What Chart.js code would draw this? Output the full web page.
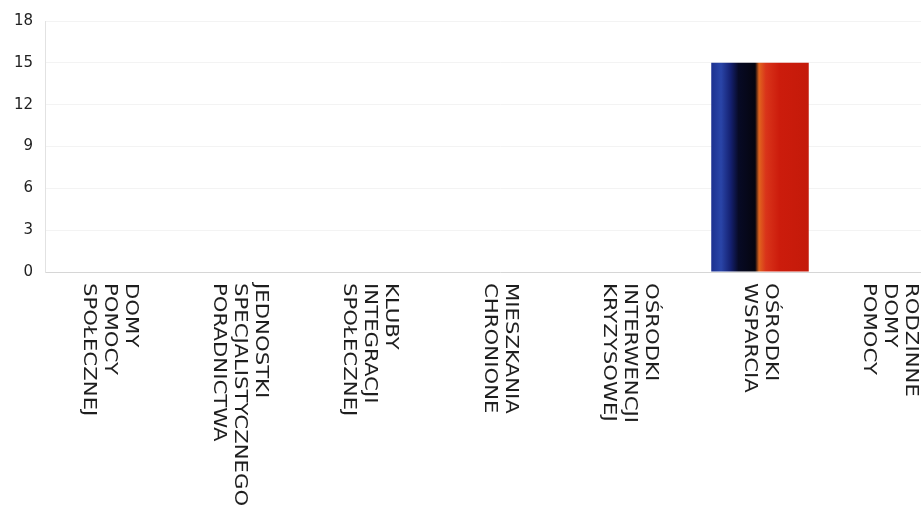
<!DOCTYPE html>
<html>
<head>
<meta charset="utf-8">
<script src="https://cdn.jsdelivr.net/npm/chart.js@4"></script>
<style>
    html, body { margin: 0; padding: 0; background: #fff; overflow: hidden; }
    #wrap { width: 960px; height: 516px; }
</style>
</head>
<body>
<div id="wrap"><canvas id="chart"></canvas></div>
<script>
// Categories (each line of the label separately)
const categories = [
    ['DOMY', 'POMOCY', 'SPOŁECZNEJ'],
    ['JEDNOSTKI', 'SPECJALISTYCZNEGO', 'PORADNICTWA'],
    ['KLUBY', 'INTEGRACJI', 'SPOŁECZNEJ'],
    ['MIESZKANIA', 'CHRONIONE'],
    ['OŚRODKI', 'INTERWENCJI', 'KRYZYSOWEJ'],
    ['OŚRODKI', 'WSPARCIA'],
    ['RODZINNE', 'DOMY', 'POMOCY']
];
const values = [0, 0, 0, 0, 0, 15, 0];
const yMax = 18;
const yStep = 3;

const BAR_PCT = 0.75;
const LABEL_FONT = '18px "DejaVu Sans"';
const LINE_H = 21;
const STRETCH = 1.18;

// gradient across the bar width (blue -> black -> orange -> red)
function barFill(context) {
    const chart = context.chart;
    if (!chart.chartArea) return '#c81a0a';
    const xs = chart.scales.x;
    const cx = xs.getPixelForValue(context.dataIndex);
    const half = xs.width / categories.length * BAR_PCT / 2;
    const g = chart.ctx.createLinearGradient(cx - half, 0, cx + half, 0);
    g.addColorStop(0, '#1c3190');
    g.addColorStop(0.1, '#2a45a8');
    g.addColorStop(0.2, '#142070');
    g.addColorStop(0.28, '#070a25');
    g.addColorStop(0.45, '#05050f');
    g.addColorStop(0.49, '#e0641e');
    g.addColorStop(0.56, '#d9341a');
    g.addColorStop(0.7, '#cc1c0c');
    g.addColorStop(1, '#c41a0a');
    return g;
}

// x labels rotated clockwise, first line on the right
const xLabels = {
    id: 'xLabels',
    afterDraw(chart) {
        const ctx = chart.ctx;
        const xs = chart.scales.x;
        ctx.save();
        ctx.font = LABEL_FONT;
        ctx.fillStyle = '#1e1e1e';
        ctx.textAlign = 'left';
        ctx.textBaseline = 'middle';
        categories.forEach((lines, i) => {
            const x = xs.getPixelForTick(i);
            const n = lines.length;
            lines.forEach((line, j) => {
                const lx = x + ((n - 1) / 2 - j) * LINE_H;
                ctx.save();
                ctx.translate(lx, chart.chartArea.bottom + 11);
                ctx.rotate(Math.PI / 2);
                ctx.scale(STRETCH, 1);
                ctx.fillText(line, 0, 0);
                ctx.restore();
            });
        });
        ctx.restore();
    }
};

new Chart(document.getElementById('chart'), {
    type: 'bar',
    data: {
        labels: categories,
        datasets: [{
            label: 'Liczba',
            data: values,
            backgroundColor: barFill,
            borderWidth: 0,
            barPercentage: BAR_PCT,
            categoryPercentage: 1
        }]
    },
    options: {
        responsive: true,
        maintainAspectRatio: false,
        animation: false,
        layout: { padding: { top: 17, right: 5, bottom: 236, left: 0 } },
        plugins: {
            legend: { display: false },
            tooltip: { enabled: false }
        },
        scales: {
            x: {
                ticks: { display: false },
                grid: { display: false },
                border: { color: '#d6d6d6', width: 1 }
            },
            y: {
                min: 0,
                max: yMax,
                afterFit: s => { s.width = 45; },
                ticks: {
                    stepSize: yStep,
                    padding: 12,
                    color: '#222',
                    font: { family: '"DejaVu Sans"', size: 15 }
                },
                grid: { color: '#f3f3f3', drawTicks: false },
                border: { color: '#e2e2e2', width: 1 }
            }
        }
    },
    plugins: [xLabels]
});
</script>
</body>
</html>
